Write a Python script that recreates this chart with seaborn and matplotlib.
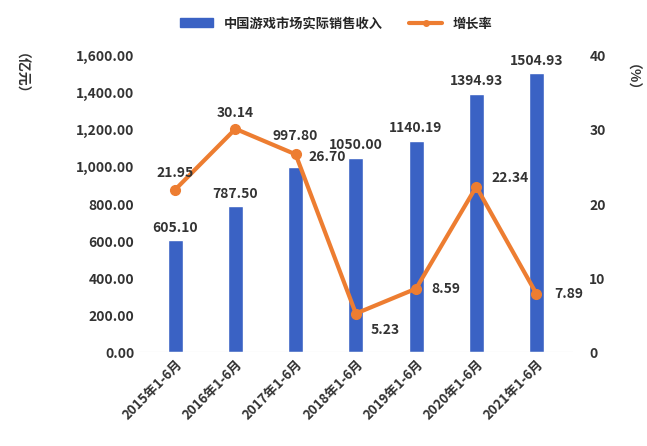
import matplotlib
matplotlib.use("Agg")
import matplotlib.pyplot as plt
import seaborn as sns
import pandas as pd
from matplotlib.lines import Line2D
from matplotlib.patches import Patch

categories = ["2015年1-6月", "2016年1-6月", "2017年1-6月", "2018年1-6月", "2019年1-6月", "2020年1-6月", "2021年1-6月"]
revenue = [605.10, 787.50, 997.80, 1050.00, 1140.19, 1394.93, 1504.93]
growth = [21.95, 30.14, 26.70, 5.23, 8.59, 22.34, 7.89]

sns.set_style("white")
plt.rcParams['font.family'] = ['Noto Sans CJK SC', 'DejaVu Sans']

fig = plt.figure(figsize=(6.47, 4.46), dpi=100)
ax = fig.add_axes([0.215, 0.21, 0.67, 0.665])
df = pd.DataFrame({"cat": categories, "rev": revenue, "g": growth})
sns.barplot(data=df, x="cat", y="rev", color="#3a62c4", width=0.25, ax=ax, saturation=1)
ax.set_ylim(0, 1600)
ax.set_yticks(range(0, 1601, 200))
ax.set_yticklabels([f"{v:,.2f}" for v in range(0, 1601, 200)], fontsize=10, fontweight='bold', color='#333333')
ax.set_xlabel(""); ax.set_ylabel("")
ax.tick_params(axis='both', length=0)
ax.tick_params(axis='x', rotation=45, labelsize=9.5, labelcolor='#333333')
for lbl in ax.get_xticklabels():
    lbl.set_ha('right'); lbl.set_rotation_mode('anchor'); lbl.set_fontweight('bold')
for s in ax.spines.values():
    s.set_visible(False)
ax.axhline(0, color='#cccccc', lw=0.8)
rev_dy = [30, 30, 130, 30, 30, 30, 30]
for i, v in enumerate(revenue):
    ax.text(i, v + rev_dy[i], f"{v:.2f}", ha='center', va='bottom', fontsize=10, fontweight='bold', color='#333333')

ax2 = ax.twinx()
ax2.plot(range(len(categories)), growth, color="#ed7d31", lw=3, marker='o', ms=7)
ax2.set_ylim(0, 40)
ax2.set_yticks([0, 10, 20, 30, 40])
ax2.set_yticklabels(["0", "10", "20", "30", "40"], fontsize=10, fontweight='bold', color='#333333')
ax2.tick_params(length=0, pad=12)
for s in ax2.spines.values():
    s.set_visible(False)
offs = [(0, 2.2), (0, 2.2), (0.22, -0.3), (0.25, -2.2), (0.25, 0), (0.25, 1.2), (0.3, 0)]
for i, v in enumerate(growth):
    dx, dy = offs[i]
    ax2.text(i + dx, v + dy, f"{v:.2f}", ha='center' if dx == 0 else 'left', va='center',
             fontsize=10, fontweight='bold', color='#333333')
ax.set_xlim(-0.6, 6.6)

fig.text(0.02, 0.82, "（亿元）", rotation=270, fontsize=10, fontweight='bold', ha='center', va='center', color='#333333')
fig.text(0.965, 0.81, "（%）", rotation=270, fontsize=10, fontweight='bold', ha='center', va='center', color='#333333')

handles = [Patch(color="#3a62c4"), Line2D([], [], color="#ed7d31", lw=3, marker='o', ms=4)]
fig.legend(handles, ["中国游戏市场实际销售收入", "增长率"], loc='upper center', bbox_to_anchor=(0.52, 0.99),
           ncol=2, frameon=False, prop={'weight': 'bold', 'size': 9.5}, handlelength=2.5)
fig.savefig("out.png", dpi=100)
